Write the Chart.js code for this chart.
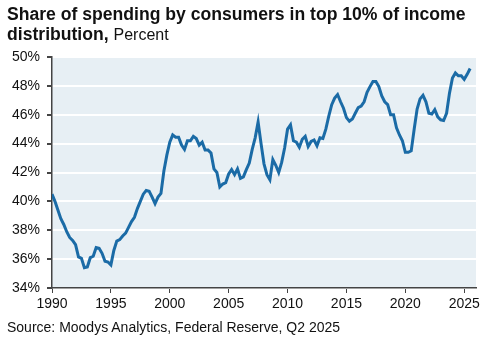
<!DOCTYPE html>
<html>
<head>
<meta charset="utf-8">
<script src="https://cdn.jsdelivr.net/npm/chart.js@4.4.1/dist/chart.umd.min.js"></script>
<style>
  html, body { margin: 0; padding: 0; background: #ffffff; }
  #wrap { position: relative; width: 500px; height: 347px; overflow: hidden; font-family: "Liberation Sans", Arial, sans-serif; color: #111; }
  #title { position: absolute; left: 7px; top: 4px; font-size: 17.6px; line-height: 20px; font-weight: bold; color: #111; white-space: nowrap; }
  #title .unit { font-weight: normal; font-size: 16px; }
  #source { position: absolute; left: 7px; top: 319px; font-size: 14px; color: #111; }
  canvas { position: absolute; left: 0; top: 0; }
</style>
</head>
<body>
<div id="wrap">
  <canvas id="c" width="500" height="347"></canvas>
  <div id="title">Share of spending by consumers in top 10% of income<br>distribution, <span class="unit">Percent</span></div>
  <div id="source">Source: Moodys Analytics, Federal Reserve, Q2 2025</div>
</div>
<script>
// Quarterly observations, first quarter of 1990 onward
const startYear = 1990;
const shareTop10 = [
  40.5, 40.0, 39.4, 38.8,    // 1990
  38.4, 37.9, 37.5, 37.3,    // 1991
  37.0, 36.15, 36.05, 35.4,  // 1992
  35.45, 36.1, 36.2, 36.8,   // 1993
  36.75, 36.4, 35.85, 35.8,  // 1994
  35.6, 36.6, 37.25, 37.35,  // 1995
  37.6, 37.8, 38.2, 38.6,    // 1996
  38.9, 39.5, 40.0, 40.5,    // 1997
  40.75, 40.7, 40.3, 39.85,  // 1998
  40.3, 40.55, 42.1, 43.2,   // 1999
  44.1, 44.6, 44.45, 44.45,  // 2000
  43.9, 43.6, 44.2, 44.2,    // 2001
  44.5, 44.35, 43.9, 44.1,   // 2002
  43.55, 43.55, 43.35, 42.25,// 2003
  42.0, 41.0, 41.2, 41.3,    // 2004
  41.9, 42.2, 41.85, 42.25,  // 2005
  41.6, 41.7, 42.2, 42.65,   // 2006
  43.6, 44.4, 45.5, 44.0,    // 2007
  42.6, 41.85, 41.5, 42.9,   // 2008
  42.5, 42.0, 42.7, 43.7,    // 2009
  45.0, 45.3, 44.2, 44.1,    // 2010
  43.75, 44.3, 44.5, 43.8,   // 2011
  44.15, 44.25, 43.85, 44.4, // 2012
  44.35, 45.0, 45.9, 46.7,   // 2013
  47.15, 47.4, 46.9, 46.45,  // 2014
  45.8, 45.55, 45.7, 46.1,   // 2015
  46.5, 46.6, 46.9, 47.55,   // 2016
  47.95, 48.3, 48.3, 47.95,  // 2017
  47.3, 46.9, 46.7, 46.0,    // 2018
  46.0, 45.1, 44.6, 44.2,    // 2019
  43.4, 43.4, 43.5, 45.0,    // 2020
  46.4, 47.1, 47.35, 46.9,   // 2021
  46.1, 46.05, 46.35, 45.85, // 2022
  45.65, 45.6, 46.1, 47.5,   // 2023
  48.55, 48.9, 48.7, 48.7,   // 2024
  48.45, 48.8, 49.2          // 2025
];
const xTicks = [1990, 1995, 2000, 2005, 2010, 2015, 2020, 2025];
const yTicks = [34, 36, 38, 40, 42, 44, 46, 48, 50];

const points = shareTop10.map((v, i) => ({ x: startYear + i / 4, y: v }));

const plotBg = {
  id: 'plotBg',
  beforeDraw(chart) {
    const a = chart.chartArea, ctx = chart.ctx;
    ctx.save();
    ctx.fillStyle = '#E7EFF4';
    ctx.fillRect(a.left, a.top, a.right - a.left, a.bottom - a.top);
    ctx.restore();
  }
};

const axisColor = '#444444';
const tickFont = { family: '"Liberation Sans", Arial, sans-serif', size: 14 };

new Chart(document.getElementById('c'), {
  type: 'line',
  data: {
    datasets: [{
      data: points,
      borderColor: '#1B6BA6',
      borderWidth: 3,
      pointRadius: 0,
      tension: 0,
      fill: false
    }]
  },
  options: {
    responsive: false,
    animation: false,
    layout: { padding: { left: 0, right: 24, top: 57, bottom: 34 } },
    plugins: { legend: { display: false }, tooltip: { enabled: false } },
    scales: {
      x: {
        type: 'linear',
        min: 1990,
        max: 2026,
        afterBuildTicks(scale) { scale.ticks = xTicks.map(v => ({ value: v })); },
        afterFit(scale) { scale.height = 25; },
        ticks: { callback: v => String(v), font: tickFont, color: '#111', padding: 3, maxRotation: 0, autoSkip: false },
        grid: { color: 'rgba(0,0,0,0)', tickColor: axisColor, tickLength: 5, drawOnChartArea: false },
        border: { display: true, color: axisColor, width: 1.5 }
      },
      y: {
        min: 34,
        max: 50,
        afterBuildTicks(scale) { scale.ticks = yTicks.map(v => ({ value: v })); },
        afterFit(scale) { scale.width = 52; },
        ticks: { callback: v => v + '%', font: tickFont, color: '#111', padding: 7 },
        grid: { color: '#ffffff', lineWidth: 2, tickColor: axisColor, tickLength: 5 },
        border: { display: true, color: axisColor, width: 1.5 }
      }
    }
  },
  plugins: [plotBg]
});
</script>
</body>
</html>
